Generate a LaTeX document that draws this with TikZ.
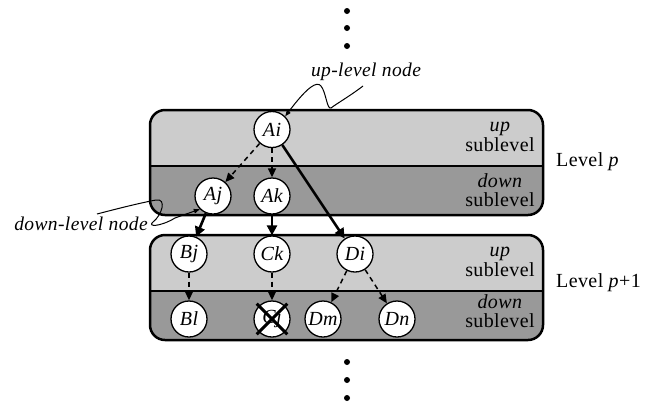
\documentclass[tikz,border=0pt]{standalone}
\usepackage{fontspec}
\setmainfont{Liberation Serif}[LetterSpace=2]
\usetikzlibrary{arrows.meta}
\begin{document}
\begin{tikzpicture}[x=1pt,y=-1pt,
  nd/.style={circle, draw, line width=1.3pt, fill=white, minimum size=36pt, inner sep=0pt, font=\fontsize{20}{20}\selectfont\itshape},
  dasharr/.style={line width=1.5pt, dash pattern=on 5pt off 4pt, -{Triangle[length=9pt,width=8pt]}},
  thickarr/.style={line width=2.6pt, -{Triangle[length=10pt,width=10pt]}},
  callout/.style={line width=1pt, -{Triangle[length=6pt,width=4.5pt]}},
  lbl/.style={font=\fontsize{20}{19.5}\selectfont, align=center, inner sep=0pt},
  itlbl/.style={font=\fontsize{19.5}{19.5}\selectfont\itshape, inner sep=0pt},
  upband/.style={fill=black!20},
  downband/.style={fill=black!40},
  border/.style={line width=2.5pt, rounded corners=15pt},
  divider/.style={line width=1.6pt},
  dot/.style={fill=black}
]
\useasboundingbox (0,0) rectangle (652,405);

% dots
\fill[dot] (347,11) circle (3pt);
\fill[dot] (347,28) circle (3pt);
\fill[dot] (347,46) circle (3pt);
\fill[dot] (347,362) circle (3pt);
\fill[dot] (347,380) circle (3pt);
\fill[dot] (347,398) circle (3pt);

% Level p box
\begin{scope}
\clip[rounded corners=15pt] (150,110) rectangle (543,215);
\fill[upband] (150,110) rectangle (543,166);
\fill[downband] (150,166) rectangle (543,215);
\end{scope}
\draw[divider] (150,166) -- (543,166);
\draw[border] (150,110) rectangle (543,215);

% Level p+1 box
\begin{scope}
\clip[rounded corners=15pt] (150,235) rectangle (543,340);
\fill[upband] (150,235) rectangle (543,291);
\fill[downband] (150,291) rectangle (543,340);
\end{scope}
\draw[divider] (150,291) -- (543,291);
\draw[border] (150,235) rectangle (543,340);

% sublevel labels
\node[lbl] (u1) at (500,137) {\textit{up}\\sublevel};
\node[lbl] (d1) at (500,190) {\textit{down}\\sublevel};
\node[lbl] (u2) at (500,262) {\textit{up}\\sublevel};
\node[lbl] (d2) at (500,311) {\textit{down}\\sublevel};
\node[lbl, anchor=west] (lp) at (556,162) {Level \textit{p}};
\node[lbl, anchor=west] (lp1) at (556,283) {Level \textit{p}+1};

% nodes
\node[nd] (Ai) at (272,129.5) {Ai};
\node[nd] (Aj) at (213,196) {Aj};
\node[nd] (Ak) at (272,196) {Ak};
\node[nd] (Bj) at (189,254) {Bj};
\node[nd] (Ck) at (272,254) {Ck};
\node[nd] (Di) at (355,254) {Di};
\node[nd] (Bl) at (189,319) {Bl};
\node[nd] (Cj) at (272,319) {Cj};
\node[nd] (Dm) at (323,319) {Dm};
\node[nd] (Dn) at (397,319) {Dn};

% cross on Cj
\draw[line width=3pt, shorten >=-3pt, shorten <=-3pt] (Cj.north west) -- (Cj.south east);
\draw[line width=3pt, shorten >=-3pt, shorten <=-3pt] (Cj.north east) -- (Cj.south west);

% edges
\draw[dasharr] (Ai) -- (Aj);
\draw[dasharr] (Ai) -- (Ak);
\draw[thickarr] (Ai) -- (Di);
\draw[thickarr] (Aj) -- (Bj);
\draw[thickarr] (Ak) -- (Ck);
\draw[dasharr] (Bj) -- (Bl);
\draw[dasharr] (Ck) -- (Cj);
\draw[dasharr] (Di) -- (Dm);
\draw[dasharr] (Di) -- (Dn);

% callouts
\node[itlbl] (upl) at (366,72) {up-level node};
\node[itlbl] (downl) at (81,224) {down-level node};
\coordinate (uc) at (363,86);
\coordinate (dc) at (97,214);
\draw[callout] (uc) .. controls (350,96) and (336,104) .. (331,108)
  .. controls (327,110) and (326,92) .. (321,86)
  .. controls (317,81) and (308,86) .. (Ai.north east);
\draw[callout] (dc) .. controls (120,208) and (140,203) .. (156,200)
  .. controls (167,198) and (162,215) .. (153,222)
  .. controls (147,227) and (160,227) .. (175,218)
  -- (Aj.south west);
\end{tikzpicture}
\end{document}
